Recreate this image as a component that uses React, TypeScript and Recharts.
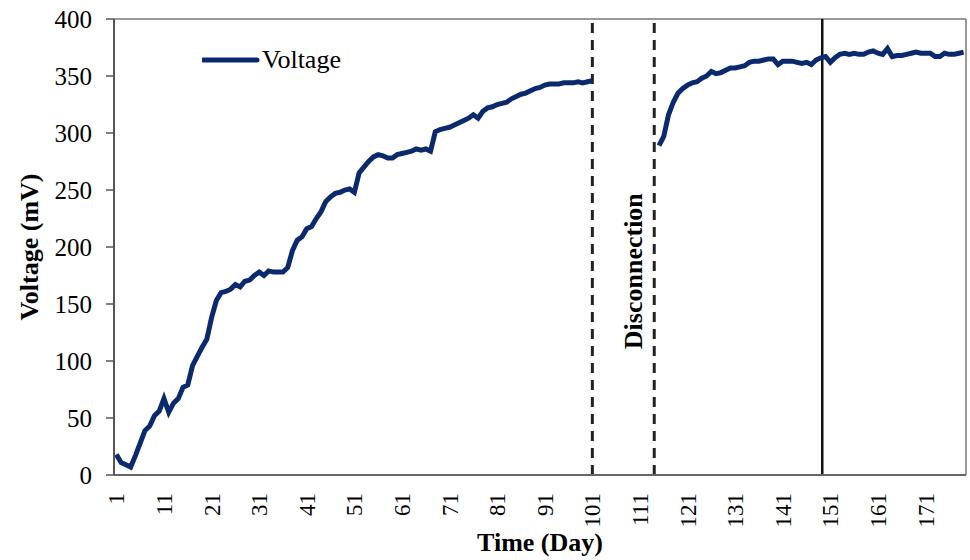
import {
  LineChart,
  Line,
  XAxis,
  YAxis,
  ReferenceLine,
  Legend,
} from 'recharts';

// Measured voltage, days 1-101 (before the disconnection)
const voltageBefore = [
  18, 11, 9, 7, 17, 28, 39, 43, 52, 56,
  67, 55, 63, 67, 77, 79, 96, 104, 112, 119,
  138, 153, 160, 161, 163, 167, 165, 170, 171, 175,
  178, 175, 179, 178, 178, 178, 182, 197, 206, 209,
  216, 218, 225, 231, 240, 244, 247, 248, 250, 251,
  248, 265, 270, 275, 279, 281, 280, 278, 278, 281,
  282, 283, 284, 286, 285, 286, 284, 301, 303, 304,
  305, 307, 309, 311, 313, 316, 313, 319, 322, 323,
  325, 326, 327, 330, 332, 334, 335, 337, 339, 340,
  342, 343, 343, 343, 344, 344, 344, 345, 344, 345,
  346,
];

// Measured voltage, days 115-179 (after reconnection)
const voltageAfter = [
  289, 297, 316, 327, 335, 339, 342, 344, 345, 348,
  350, 354, 352, 353, 355, 357, 357, 358, 359, 362,
  363, 363, 364, 365, 365, 360, 363, 363, 363, 362,
  361, 362, 360, 364, 366, 367, 362, 366, 369, 370,
  369, 370, 369, 369, 371, 372, 370, 369, 374, 367,
  368, 368, 369, 370, 371, 370, 370, 370, 367, 367,
  370, 369, 369, 370, 371,
];

const firstDay = 1;
const lastDay = 179;
const reconnectDay = 115;

const xTicks = [1, 11, 21, 31, 41, 51, 61, 71, 81, 91, 101, 111, 121, 131, 141, 151, 161, 171];
const yTicks = [0, 50, 100, 150, 200, 250, 300, 350, 400];

const disconnectStart = 101;
const disconnectEnd = 114;
const markerDay = 149.3;

const data = [];
for (let d = firstDay; d <= lastDay; d++) {
  let v = null;
  if (d <= voltageBefore.length) v = voltageBefore[d - 1];
  else if (d >= reconnectDay) v = voltageAfter[d - reconnectDay] ?? null;
  data.push({ day: d, voltage: v });
}

const FONT = '"Liberation Serif", "Times New Roman", serif';
const NAVY = '#0b2a6e';

const XTick = ({ x, y, payload }: any) => (
  <text
    x={x}
    y={y}
    transform={`rotate(-90, ${x}, ${y})`}
    textAnchor="end"
    dy="0.35em"
    fontSize={23}
    fontFamily={FONT}
    fill="#000"
  >
    {payload.value}
  </text>
);

const DisconnectLabel = ({ viewBox }: any) => {
  const cx = viewBox.x - 21;
  const cy = viewBox.y + viewBox.height * 0.553;
  return (
    <text
      x={cx}
      y={cy}
      transform={`rotate(-90, ${cx}, ${cy})`}
      textAnchor="middle"
      dominantBaseline="central"
      fontSize={26}
      fontWeight="bold"
      fontFamily={FONT}
      fill="#000"
    >
      Disconnection
    </text>
  );
};

const LegendContent = () => (
  <div style={{ display: 'flex', alignItems: 'center', fontFamily: FONT, fontSize: 26, color: '#000' }}>
    <svg width={58} height={20}>
      <line x1={1} y1={10} x2={55} y2={10} stroke={NAVY} strokeWidth={5} strokeLinecap="round" />
    </svg>
    <span style={{ marginLeft: 2 }}>Voltage</span>
  </div>
);

export default function App() {
  return (
    <div style={{ position: 'absolute', left: 0, top: 0, width: 970, height: 560, background: '#fff' }}>
      <LineChart
        width={970}
        height={560}
        data={data}
        margin={{ top: 19, right: 4, left: 0, bottom: 0 }}
      >
        <XAxis
          dataKey="day"
          type="number"
          domain={[0.5, 179.5]}
          ticks={xTicks}
          interval={0}
          height={85}
          tickLine={false}
          tickSize={0}
          tickMargin={18}
          tick={<XTick />}
          axisLine={{ stroke: '#666', strokeWidth: 2 }}
          label={({ viewBox }: any) => (
            <text
              x={viewBox.x + viewBox.width / 2}
              y={551}
              textAnchor="middle"
              fontSize={26}
              fontWeight="bold"
              fontFamily={FONT}
              fill="#000"
            >
              Time (Day)
            </text>
          )}
        />
        <YAxis
          domain={[0, 400]}
          ticks={yTicks}
          width={114}
          tickSize={8}
          tickMargin={14}
          tick={{ fontSize: 25, fontFamily: FONT, fill: '#000' }}
          tickLine={{ stroke: '#555', strokeWidth: 1.5 }}
          axisLine={{ stroke: '#555', strokeWidth: 2 }}
          label={({ viewBox }: any) => {
            const cx = 29;
            const cy = viewBox.y + viewBox.height / 2;
            return (
              <text
                x={cx}
                y={cy}
                transform={`rotate(-90, ${cx}, ${cy})`}
                textAnchor="middle"
                dominantBaseline="central"
                fontSize={26}
                fontWeight="bold"
                fontFamily={FONT}
                fill="#000"
              >
                Voltage (mV)
              </text>
            );
          }}
        />
        {/* plot frame: top and right */}
        <ReferenceLine y={400} stroke="#777" strokeWidth={1.5} />
        <ReferenceLine x={179.5} stroke="#777" strokeWidth={1.5} />
        <ReferenceLine x={disconnectStart} stroke="#222" strokeWidth={3} strokeDasharray="10 7" />
        <ReferenceLine
          x={disconnectEnd}
          stroke="#222"
          strokeWidth={3}
          strokeDasharray="10 7"
          label={<DisconnectLabel />}
        />
        <ReferenceLine x={markerDay} stroke="#111" strokeWidth={2.5} />
        <Legend
          layout="vertical"
          align="center"
          verticalAlign="middle"
          content={<LegendContent />}
          wrapperStyle={{ left: 202, top: 45, width: 'auto', height: 'auto' }}
        />
        <Line
          type="linear"
          dataKey="voltage"
          stroke={NAVY}
          strokeWidth={5}
          dot={false}
          activeDot={false}
          connectNulls={false}
          isAnimationActive={false}
        />
      </LineChart>
    </div>
  );
}
